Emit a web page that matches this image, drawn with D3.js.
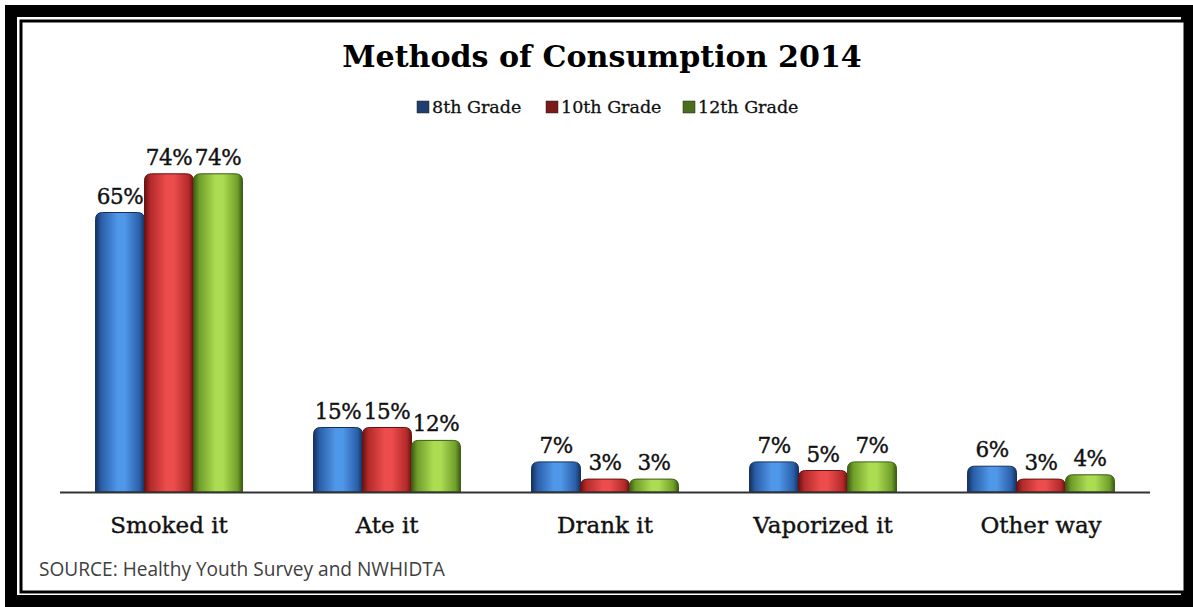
<!DOCTYPE html>
<html><head><meta charset="utf-8">
<script src="https://cdn.jsdelivr.net/npm/d3@7"></script>
<style>html,body{margin:0;padding:0;background:#fff;}svg{display:block;}</style>
</head><body>
<svg id="chart" width="1193" height="607"></svg>
<script>
const categories = ["Smoked it","Ate it","Drank it","Vaporized it","Other way"];
const seriesNames = ["8th Grade","10th Grade","12th Grade"];
const grade8 = [65,15,7,7,6];
const grade10 = [74,15,3,5,3];
const grade12 = [74,12,3,7,4];
const titleText = "Methods of Consumption 2014";
const sourceText = "SOURCE: Healthy Youth Survey and NWHIDTA";

const seriesValues = [grade8, grade10, grade12];
const palettes = [
  {edge:"#15315c", dark:"#2a5ea8", light:"#4f97e8", key:"#1f3f6e"},
  {edge:"#6a1212", dark:"#b42a2a", light:"#ec4c4c", key:"#7a1a1a"},
  {edge:"#3c5c12", dark:"#6f9e2a", light:"#acdc52", key:"#4a6e1e"}
];

const svg = d3.select("#chart");
const defs = svg.append("defs");
palettes.forEach((p,i)=>{
  const g = defs.append("linearGradient").attr("id","grad"+i).attr("x1","0").attr("x2","1").attr("y1","0").attr("y2","0");
  [[0,p.edge],[0.12,p.dark],[0.45,p.light],[0.6,p.light],[0.9,p.dark],[1,p.edge]].forEach(s=>{
    g.append("stop").attr("offset",s[0]).attr("stop-color",s[1]);
  });
});

// frame
svg.append("rect").attr("x",11).attr("y",11).attr("width",1176).attr("height",590)
  .attr("fill","none").attr("stroke","#000").attr("stroke-width",12);
svg.append("rect").attr("x",21).attr("y",21).attr("width",1164).attr("height",571)
  .attr("fill","#fff").attr("stroke","#000").attr("stroke-width",3);

function fit(sel, w){
  const n = sel.node();
  const cur = n.getComputedTextLength();
  const fs = parseFloat(sel.attr("font-size"));
  sel.attr("font-size", fs*w/cur);
}

const serif = "'DejaVu Serif', Georgia, serif";

// title
const t = svg.append("text").attr("x",602).attr("y",67).attr("text-anchor","middle")
  .attr("font-family",serif).attr("font-weight","bold").attr("font-size",28).attr("fill","#000").text(titleText);
fit(t, 520);

// scales
const x = d3.scaleBand().domain(categories).range([60,1150]).paddingInner(0.326).paddingOuter(0.163);
const xs = d3.scaleBand().domain(seriesNames).range([0,x.bandwidth()]);
const y = d3.scaleLinear().domain([0,80]).range([492,148]);

// legend
const legendPos = [417,546,683];
seriesNames.forEach((s,i)=>{
  const lg = svg.append("g").attr("transform",`translate(${legendPos[i]},0)`);
  lg.append("rect").attr("x",0).attr("y",101).attr("width",12).attr("height",12)
    .attr("fill",palettes[i].key).attr("stroke","#222").attr("stroke-width",0.5);
  lg.append("text").attr("x",15).attr("y",113).attr("font-family",serif).attr("font-size",17.5)
    .attr("fill","#111").attr("stroke","#111").attr("stroke-width",0.3).text(s);
});

// bars
const r = 7;
function barPath(x0,w,yTop,yBase){
  const rr = Math.min(r,(yBase-yTop));
  return `M${x0},${yBase}V${yTop+rr}Q${x0},${yTop} ${x0+rr},${yTop}H${x0+w-rr}Q${x0+w},${yTop} ${x0+w},${yTop+rr}V${yBase}Z`;
}
const groups = svg.append("g").selectAll("g").data(categories).join("g")
  .attr("transform",d=>`translate(${x(d)},0)`);
seriesNames.forEach((s,i)=>{
  groups.append("path")
    .attr("d",(d,j)=>barPath(xs(s),xs.bandwidth(),y(seriesValues[i][j]),y(0)))
    .attr("fill",`url(#grad${i})`).attr("stroke",palettes[i].edge).attr("stroke-width",1);
  groups.append("text")
    .attr("x",xs(s)+xs.bandwidth()/2)
    .attr("y",(d,j)=>y(seriesValues[i][j])-9)
    .attr("text-anchor","middle").attr("font-family",serif).attr("font-size",21.5).attr("fill","#111")
    .attr("stroke","#111").attr("stroke-width",0.4).attr("letter-spacing",-0.5)
    .text((d,j)=>seriesValues[i][j]+"%");
});

// baseline
svg.append("line").attr("x1",60).attr("x2",1150).attr("y1",y(0)+0.5).attr("y2",y(0)+0.5)
  .attr("stroke","#333").attr("stroke-width",2);

// category labels via axis
const ax = svg.append("g").attr("transform",`translate(0,${y(0)})`)
  .call(d3.axisBottom(x).tickSize(0).tickPadding(0));
ax.select(".domain").remove();
ax.selectAll("text").attr("dy",null).attr("y",41).attr("font-family",serif).attr("font-size",23).attr("fill","#111")
  .attr("stroke","#111").attr("stroke-width",0.4);

// source
const src = svg.append("text").attr("x",39).attr("y",576).attr("font-family","'Open Sans', 'Liberation Sans', sans-serif")
  .attr("font-size",16).attr("fill","#404040").text(sourceText);
fit(src, 406);
</script>
</body></html>
